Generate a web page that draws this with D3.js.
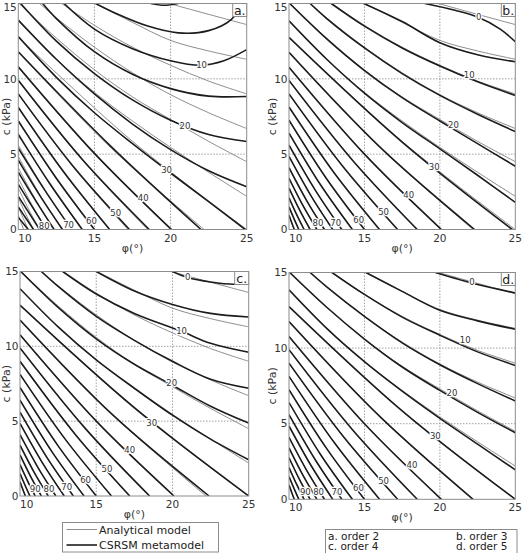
<!DOCTYPE html>
<html>
<head>
<meta charset="utf-8">
<script src="https://cdn.jsdelivr.net/npm/d3@7"></script>
<style>
  body { margin: 0; background: #fff; }
  text { font-family: 'DejaVu Sans', Verdana, sans-serif; }
</style>
</head>
<body>
<svg id="chart" width="524" height="553"></svg>
<script>
// contour levels (every 5)
var levels = [0, 5, 10, 15, 20, 25, 30, 35, 40, 45, 50, 55, 60, 65, 70, 75, 80, 85, 90, 95, 100, 105];

// analytical model contours, [phi, c] points
var analytical = [
  [[19.9,15],[22.5,14.28],[25,13.6]],
  [[15.05,15],[17.5,13.75],[20,12.55],[22.5,11.85],[25,11.3]],
  [[12.85,15],[15,13.55],[17.5,12.1],[20,10.9],[22.5,9.85],[25,9.0]],
  [[11.4,15],[12.5,14.05],[15,12.1],[17.5,10.4],[20,8.95],[22.5,7.75],[25,6.7]],
  [[10.05,15],[12.5,12.7],[15,10.6],[17.5,8.8],[20,7.3],[22.5,5.85],[25,4.5]],
  [[10,13.85],[12.5,11.3],[15,9.1],[17.5,7.2],[20,5.45],[22.5,3.8],[25,2.2]],
  [[10,12.75],[17.5,5.85],[25,0]],
  [[10,11.76],[16.1,5.4],[22.2,0]],
  [[10,10.77],[15.05,4.95],[20.1,0]],
  [[10,9.89],[14.25,4.55],[18.5,0]],
  [[10,9.0],[13.6,4.15],[17.2,0]],
  [[10,8.13],[13.0,3.75],[16.0,0]],
  [[10,7.25],[12.5,3.35],[15.0,0]],
  [[10,6.4],[12.1,2.95],[14.2,0]],
  [[10,5.6],[11.75,2.6],[13.5,0]],
  [[10,4.85],[11.45,2.25],[12.9,0]],
  [[10,4.1],[11.18,1.9],[12.35,0]],
  [[10,3.4],[10.92,1.6],[11.85,0]],
  [[10,2.75],[10.7,1.3],[11.4,0]],
  [[10,2.1],[10.5,1.0],[11.0,0]],
  [[10,1.5],[10.33,0.72],[10.65,0]],
  [[10,0.95],[10.18,0.45],[10.35,0]]
];

// CSRSM metamodel contours, one list per panel (order 2..5)
var metaA = [
  [[18.7,15],[19.6,14.88],[20.5,15]],
  [[15.08,15],[16.5,14.3],[18.5,13.5],[20.5,13.05],[22.5,13.2],[24,13.95],[24.7,15]],
  [[13.0,15],[15,13.3],[17.5,12.0],[20,11.2],[22,10.9],[23.5,11.2],[25,11.94]],
  [[11.6,15],[12.5,14.0],[15,11.8],[17.5,10.3],[20,9.35],[22.5,8.85],[25,8.83]],
  [[10.15,15],[12.5,12.5],[15,10.35],[17.5,8.6],[20,7.25],[22.5,6.3],[25,5.84]],
  [[10,13.9],[12.5,11.3],[15,9.0],[17.5,7.0],[20,5.3],[22.5,3.9],[25,2.84]],
  [[10,12.8],[12.5,10.1],[15,7.75],[17.5,5.7],[20,3.75],[22.5,1.85],[24.9,0]],
  [[10,11.8],[16.1,5.5],[22.0,0]],
  [[10,10.8],[15.05,5.0],[20.05,0]],
  [[10,9.9],[14.25,4.6],[18.6,0]],
  [[10,9.0],[13.6,4.2],[17.3,0]],
  [[10,8.1],[13.0,3.8],[16.0,0]],
  [[10,7.2],[12.5,3.4],[15.0,0]],
  [[10,6.3],[12.1,3.0],[14.2,0]],
  [[10,5.4],[11.75,2.6],[13.5,0]],
  [[10,4.6],[11.45,2.2],[12.9,0]],
  [[10,3.8],[11.18,1.85],[12.35,0]],
  [[10,3.0],[10.92,1.5],[11.85,0]],
  [[10,2.2],[10.7,1.1],[11.4,0]],
  [[10,1.5],[10.5,0.75],[11.0,0]],
  [[10,0.8],[10.33,0.4],[10.65,0]],
  []
];
var metaB = [
  [[19.0,15],[21,14.55],[22.5,14.1],[24,13.3],[25,12.46]],
  [[14.95,15],[17.5,13.8],[20,12.4],[22.5,11.6],[25,11.13]],
  [[12.8,15],[15,13.5],[17.5,12.05],[20,10.85],[22.5,9.8],[25,8.9]],
  [[11.4,15],[12.5,14.0],[15,12.05],[17.5,10.35],[20,8.9],[22.5,7.65],[25,6.5]],
  [[10.05,15],[12.5,12.65],[15,10.55],[17.5,8.75],[20,7.2],[22.5,5.7],[25,4.2]],
  [[10,13.85],[12.5,11.3],[15,9.05],[17.5,7.1],[20,5.35],[22.5,3.6],[25,1.8]],
  [[10,12.75],[17.5,5.8],[24.8,0]],
  [[10,11.76],[16.1,5.4],[22.3,0]],
  [[10,10.77],[15.05,4.95],[20.1,0]],
  [[10,9.89],[14.25,4.55],[18.5,0]],
  [[10,9.0],[13.6,4.15],[17.2,0]],
  [[10,8.13],[13.0,3.75],[16.0,0]],
  [[10,7.25],[12.5,3.35],[15.0,0]],
  [[10,6.4],[12.1,2.95],[14.2,0]],
  [[10,5.6],[11.75,2.6],[13.5,0]],
  [[10,4.85],[11.45,2.25],[12.9,0]],
  [[10,4.1],[11.18,1.9],[12.35,0]],
  [[10,3.4],[10.92,1.6],[11.85,0]],
  [[10,2.75],[10.7,1.3],[11.4,0]],
  [[10,2.1],[10.5,1.0],[11.0,0]],
  [[10,1.5],[10.33,0.72],[10.65,0]],
  [[10,0.95],[10.18,0.45],[10.35,0]]
];
var metaC = [
  [[20.0,15],[21,14.6],[22.5,14.3],[24,14.15],[25,14.25]],
  [[15.0,15],[17.5,13.7],[20,12.8],[22.5,12.2],[25,11.96]],
  [[12.8,15],[15,13.5],[17.5,12.2],[20.6,11.0],[22.5,10.2],[25,9.6]],
  [[11.4,15],[12.5,14.0],[15,12.0],[17.5,10.4],[20,9.0],[22.5,7.8],[25,7.2]],
  [[10.05,15],[12.5,12.6],[15,10.5],[17.5,8.8],[20,7.4],[22.5,6.0],[25,4.87]],
  [[10,13.85],[12.5,11.3],[15,9.1],[17.5,7.2],[20,5.4],[22.5,3.8],[25,2.42]],
  [[10,12.75],[17.5,5.9],[25,0]],
  [[10,11.76],[16.1,5.4],[22.4,0]],
  [[10,10.77],[15.05,4.95],[20.1,0]],
  [[10,9.89],[14.25,4.55],[18.5,0]],
  [[10,9.0],[13.6,4.15],[17.2,0]],
  [[10,8.13],[13.0,3.75],[16.0,0]],
  [[10,7.25],[12.5,3.35],[15.0,0]],
  [[10,6.4],[12.1,2.95],[14.2,0]],
  [[10,5.6],[11.75,2.6],[13.5,0]],
  [[10,4.85],[11.45,2.25],[12.9,0]],
  [[10,4.1],[11.18,1.9],[12.35,0]],
  [[10,3.4],[10.92,1.6],[11.85,0]],
  [[10,2.75],[10.7,1.3],[11.4,0]],
  [[10,2.1],[10.5,1.0],[11.0,0]],
  [[10,1.5],[10.33,0.72],[10.65,0]],
  [[10,0.95],[10.18,0.45],[10.35,0]]
];
var metaD = [
  [[19.7,15],[22.5,14.2],[25,13.65]],
  [[15.1,15],[17.5,13.75],[20,12.5],[22.5,11.8],[25,11.25]],
  [[12.85,15],[15,13.55],[17.5,12.05],[20,10.85],[22.5,9.75],[25,8.85]],
  [[11.4,15],[12.5,14.05],[15,12.1],[17.5,10.35],[20,8.9],[22.5,7.65],[25,6.5]],
  [[10.05,15],[12.5,12.7],[15,10.6],[17.5,8.75],[20,7.2],[22.5,5.75],[25,4.4]],
  [[10,13.85],[12.5,11.3],[15,9.1],[17.5,7.15],[20,5.35],[22.5,3.65],[25,1.95]],
  [[10,12.75],[17.5,5.85],[25,0]],
  [[10,11.76],[16.1,5.4],[22.2,0]],
  [[10,10.77],[15.05,4.95],[20.1,0]],
  [[10,9.89],[14.25,4.55],[18.5,0]],
  [[10,9.0],[13.6,4.15],[17.2,0]],
  [[10,8.13],[13.0,3.75],[16.0,0]],
  [[10,7.25],[12.5,3.35],[15.0,0]],
  [[10,6.4],[12.1,2.95],[14.2,0]],
  [[10,5.6],[11.75,2.6],[13.5,0]],
  [[10,4.85],[11.45,2.25],[12.9,0]],
  [[10,4.1],[11.18,1.9],[12.35,0]],
  [[10,3.4],[10.92,1.6],[11.85,0]],
  [[10,2.75],[10.7,1.3],[11.4,0]],
  [[10,2.1],[10.5,1.0],[11.0,0]],
  [[10,1.5],[10.33,0.72],[10.65,0]],
  [[10,0.95],[10.18,0.45],[10.35,0]]
];

// inline contour labels: [level, phi, c]
var labelsA = [[10,22.04,10.9],[20,20.95,6.88],[30,19.74,3.95],[40,18.2,2.06],[50,16.4,1.07],[60,14.8,0.55],[70,13.3,0.3],[80,11.7,0.2]];
var labelsB = [[0,22.57,14.12],[10,21.95,10.24],[20,20.9,6.92],[30,19.63,4.16],[40,17.93,2.28],[50,16.27,1.17],[60,14.62,0.66],[70,13.1,0.45],[80,11.92,0.45]];
var labelsC = [[0,21.0,14.65],[10,20.6,11.0],[20,19.95,7.55],[30,18.64,4.9],[40,17.2,3.1],[50,15.7,1.8],[60,14.3,1.05],[70,13.06,0.6],[80,11.9,0.45],[90,11.0,0.45]];
var labelsD = [[0,22.12,14.4],[10,21.68,10.54],[20,20.8,7.0],[30,19.7,4.2],[40,18.15,2.26],[50,16.27,1.2],[60,14.6,0.72],[70,13.18,0.5],[80,11.96,0.5],[90,11.08,0.5]];

var xTicks = [10, 15, 20, 25];
var yTicks = [0, 5, 10, 15];
var xGrid = [15, 20];
var yGrid = [5, 10];
var legendItems = ['Analytical model', 'CSRSM metamodel'];
var orderItems = ['a. order 2', 'b. order 3', 'c. order 4', 'd. order 5'];

var panels = [
  {letter: 'a.', left: 18.3, right: 246.7, top: 3.5, bottom: 229.5, meta: metaA, labels: labelsA},
  {letter: 'b.', left: 289, right: 515.3, top: 3.5, bottom: 229.5, meta: metaB, labels: labelsB},
  {letter: 'c.', left: 20, right: 248.7, top: 271.5, bottom: 496, meta: metaC, labels: labelsC},
  {letter: 'd.', left: 289, right: 515.3, top: 272.5, bottom: 499.3, meta: metaD, labels: labelsD}
];

var svg = d3.select('#chart');

panels.forEach(function(p, pi) {
  var x = d3.scaleLinear().domain([10, 25]).range([p.left, p.right]);
  var y = d3.scaleLinear().domain([0, 15]).range([p.bottom, p.top]);
  var g = svg.append('g').attr('class', 'panel');

  var clipId = 'clip' + pi;
  g.append('clipPath').attr('id', clipId)
    .append('rect')
    .attr('x', p.left).attr('y', p.top)
    .attr('width', p.right - p.left).attr('height', p.bottom - p.top);

  var plot = g.append('g').attr('clip-path', 'url(#' + clipId + ')');

  // dotted grid
  plot.selectAll('.xgrid').data(xGrid).enter().append('line')
    .attr('x1', d => x(d)).attr('x2', d => x(d))
    .attr('y1', p.top).attr('y2', p.bottom)
    .style('stroke', '#888').style('stroke-width', 0.8)
    .style('stroke-dasharray', '1.5,1.5');
  plot.selectAll('.ygrid').data(yGrid).enter().append('line')
    .attr('y1', d => y(d)).attr('y2', d => y(d))
    .attr('x1', p.left).attr('x2', p.right)
    .style('stroke', '#888').style('stroke-width', 0.8)
    .style('stroke-dasharray', '1.5,1.5');

  var line = d3.line()
    .x(d => x(d[0]))
    .y(d => y(d[1]))
    .curve(d3.curveCatmullRom.alpha(0.5));

  // analytical (thin grey)
  plot.selectAll('.ana').data(analytical).enter().append('path')
    .attr('d', d => d.length ? line(d) : null)
    .style('fill', 'none').style('stroke', '#808080').style('stroke-width', 0.9);

  // metamodel (thick black)
  plot.selectAll('.meta').data(p.meta).enter().append('path')
    .attr('d', d => d.length ? line(d) : null)
    .style('fill', 'none').style('stroke', '#1c1c1c').style('stroke-width', 1.6);

  // contour labels
  plot.selectAll('.lab').data(p.labels).enter().append('text')
    .attr('x', d => x(d[1])).attr('y', d => y(d[2]))
    .attr('dy', '0.35em')
    .attr('text-anchor', 'middle')
    .attr('font-size', 8.5)
    .style('fill', '#333')
    .style('stroke', '#fff').style('stroke-width', 2.5)
    .style('paint-order', 'stroke')
    .text(d => d[0]);

  // frame
  g.append('rect')
    .attr('x', p.left).attr('y', p.top)
    .attr('width', p.right - p.left).attr('height', p.bottom - p.top)
    .style('fill', 'none').style('stroke', '#8c8c8c').style('stroke-width', 1);

  // panel letter box
  g.append('rect')
    .attr('x', p.right - 14).attr('y', p.top)
    .attr('width', 14).attr('height', 13)
    .style('fill', '#fff').style('stroke', '#8c8c8c').style('stroke-width', 1);
  g.append('text')
    .attr('x', p.right - 7).attr('y', p.top + 11)
    .attr('text-anchor', 'middle')
    .attr('font-size', 12.5)
    .style('fill', '#222')
    .text(p.letter);

  // tick labels
  g.selectAll('.xt').data(xTicks).enter().append('text')
    .attr('x', d => x(d))
    .attr('y', p.bottom + 12)
    .attr('text-anchor', (d, i) => i === 0 ? 'start' : 'middle')
    .attr('font-size', 10.5)
    .style('fill', '#333')
    .text(d => d);
  g.selectAll('.yt').data(yTicks).enter().append('text')
    .attr('x', p.left - 1.5)
    .attr('y', d => Math.max(y(d), 7))
    .attr('dy', '0.35em')
    .attr('text-anchor', 'end')
    .attr('font-size', 10.5)
    .style('fill', '#333')
    .text(d => d);

  // axis titles
  g.append('text')
    .attr('x', (p.left + p.right) / 2)
    .attr('y', p.bottom + 22)
    .attr('text-anchor', 'middle')
    .attr('font-size', 11)
    .style('fill', '#333')
    .text('\u03C6(\u00B0)');
  g.append('text')
    .attr('transform', 'translate(' + Math.max(p.left - 13, 9.5) + ',' + ((p.top + p.bottom) / 2) + ') rotate(-90)')
    .attr('text-anchor', 'middle')
    .attr('font-size', 11)
    .style('fill', '#333')
    .text('c (kPa)');
});

// legend: line styles (under panel c)
var leg = svg.append('g');
leg.append('rect')
  .attr('x', 62.5).attr('y', 522.5).attr('width', 156).attr('height', 29.5)
  .style('fill', '#fff').style('stroke', '#8c8c8c').style('stroke-width', 1);
var legStyles = [{stroke: '#808080', w: 0.9}, {stroke: '#1c1c1c', w: 1.6}];
leg.selectAll('.li').data(legendItems).enter().append('line')
  .attr('x1', 66.5).attr('x2', 97)
  .attr('y1', (d, i) => 529.5 + i * 15.5).attr('y2', (d, i) => 529.5 + i * 15.5)
  .style('stroke', (d, i) => legStyles[i].stroke)
  .style('stroke-width', (d, i) => legStyles[i].w);
leg.selectAll('.lt').data(legendItems).enter().append('text')
  .attr('x', 99).attr('y', (d, i) => 533.5 + i * 15.5)
  .attr('font-size', 11)
  .style('fill', '#222')
  .text(d => d);

// legend: polynomial orders (under panel d)
var leg2 = svg.append('g');
leg2.append('rect')
  .attr('x', 325.5).attr('y', 529.5).attr('width', 191.5).attr('height', 30)
  .style('fill', '#fff').style('stroke', '#8c8c8c').style('stroke-width', 1);
leg2.selectAll('.ot').data(orderItems).enter().append('text')
  .attr('x', (d, i) => i % 2 === 0 ? 328 : 456)
  .attr('y', (d, i) => i < 2 ? 539.5 : 550)
  .attr('font-size', 10.5)
  .style('fill', '#222')
  .text(d => d);
</script>
</body>
</html>
